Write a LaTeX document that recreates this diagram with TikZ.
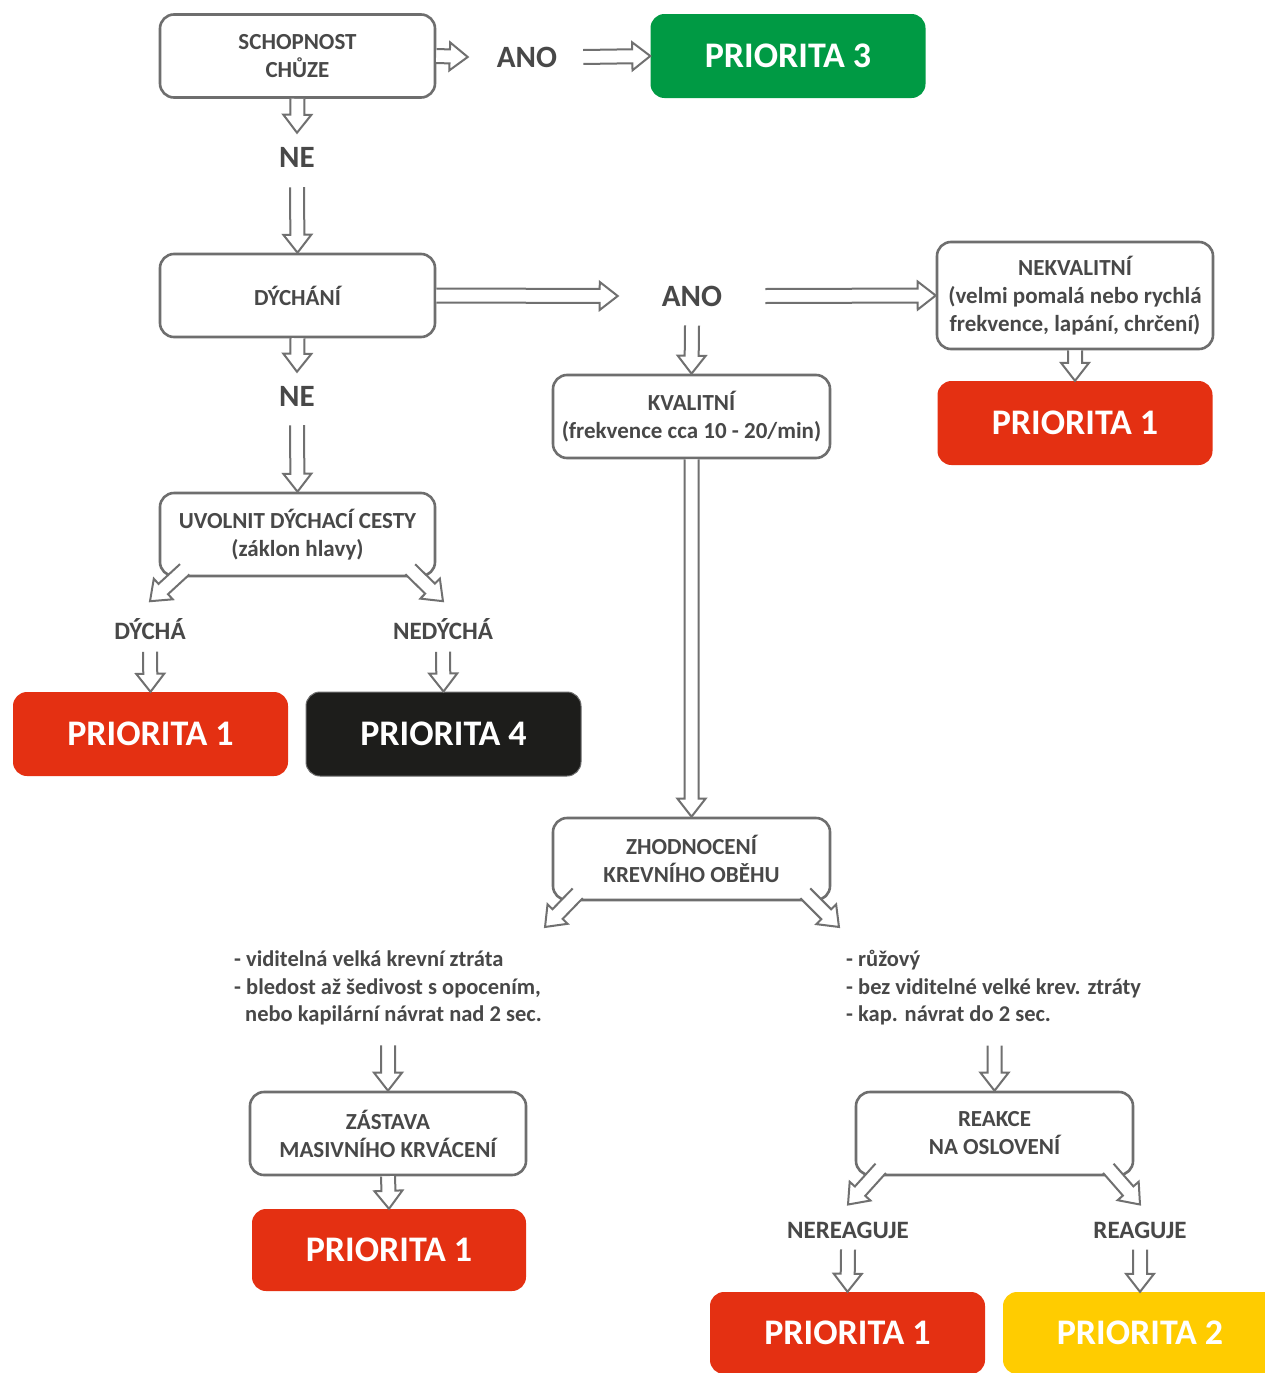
\documentclass[tikz,border=0pt]{standalone}
\usepackage{fontspec}
\setmainfont{Carlito}
\usetikzlibrary{calc}
\definecolor{bordergray}{HTML}{6E6E6E}
\definecolor{arrowgray}{HTML}{707070}
\definecolor{txtgray}{HTML}{484848}
\definecolor{pgreen}{HTML}{009A44}
\definecolor{pred}{HTML}{E43012}
\definecolor{pblack}{HTML}{1D1D1B}
\definecolor{pyellow}{HTML}{FFCC00}
\tikzset{
  harrowline/.style={draw=arrowgray, fill=white, line width=2pt, line join=miter},
  qbox/.style={draw=bordergray, line width=2.6pt, rounded corners=14pt, fill=white,
    minimum width=275pt, minimum height=83pt, align=center, inner sep=2pt,
    font=\fontsize{23}{28}\selectfont\bfseries, text=txtgray},
  prio/.style={rounded corners=14pt, minimum width=275pt, minimum height=84pt,
    font=\fontsize{36}{40}\selectfont\bfseries, text=white, inner sep=0pt},
  biglabel/.style={inner sep=0pt, font=\fontsize{31}{36}\selectfont\bfseries, text=txtgray},
  smlabel/.style={inner sep=0pt, font=\fontsize{25}{28}\selectfont\bfseries, text=txtgray},
  para/.style={inner sep=0pt, align=left, font=\fontsize{22.5}{27.5}\selectfont\bfseries, text=txtgray}
}
\newcommand\harrow[2]{%
  \path let \p1=#1, \p2=#2 in \pgfextra{%
    \pgfmathsetmacro\tmpang{atan2(\y2-\y1,\x2-\x1)}%
    \pgfmathsetmacro\tmplen{veclen(\x2-\x1,\y2-\y1)}%
    \xdef\hang{\tmpang}\xdef\hlen{\tmplen}\xdef\hxa{\x1}\xdef\hya{\y1}};
  \begin{scope}[shift={(\hxa,\hya)}, rotate=\hang, x=1pt, y=1pt]
    \filldraw[harrowline] (0,7) -- ({\hlen-18},7) -- ({\hlen-18},14) -- (\hlen,0)
      -- ({\hlen-18},-14) -- ({\hlen-18},-7) -- (0,-7);
  \end{scope}}
\begin{document}
\begin{tikzpicture}[x=1pt,y=-1pt]
\useasboundingbox (0,0) rectangle (1265,1373);
\fill[white] (0,0) rectangle (1265,1373);

% boxes
\node[qbox] (schop) at (297.5,56) {SCHOPNOST\\CHŮZE};
\node[prio, fill=pgreen] (p3) at (788,56) {PRIORITA 3};
\node[biglabel] (ano1) at (527,57) {ANO};
\node[biglabel] (ne1) at (297,157) {NE};
\node[qbox] (dych) at (297.5,295.5) {DÝCHÁNÍ};
\node[biglabel] (ano2) at (692,296) {ANO};
\node[qbox, minimum height=107pt, minimum width=276pt] (nekv) at (1075,295.5)
  {NEKVALITNÍ\\(velmi pomalá nebo rychlá\\frekvence, lapání, chrčení)};
\node[prio, fill=pred] (p1a) at (1075,423) {PRIORITA 1};
\node[qbox, minimum width=277pt] (kval) at (691.5,416.5) {KVALITNÍ\\(frekvence cca 10 - 20/min)};
\node[biglabel] (ne2) at (297,396) {NE};
\node[qbox] (uvol) at (297.5,534.5) {UVOLNIT DÝCHACÍ CESTY\\(záklon hlavy)};
\node[smlabel] (dycha) at (150,629) {DÝCHÁ};
\node[smlabel] (nedycha) at (443,629) {NEDÝCHÁ};
\node[prio, fill=pred] (p1b) at (150.5,734) {PRIORITA 1};
\node[prio, fill=pblack, draw=bordergray, line width=1pt] (p4) at (443.5,734) {PRIORITA 4};
\node[qbox, minimum width=277pt, minimum height=82pt] (zhod) at (691.5,859) {ZHODNOCENÍ\\KREVNÍHO OBĚHU};
\coordinate (zl) at (545,927);
\coordinate (zr) at (839,927);
\node[para, anchor=west] (ltext) at (234,988)
  {- viditelná velká krevní ztráta\\- bledost až šedivost s opocením,\\\hspace*{11pt}nebo kapilární návrat nad 2 sec.};
\node[para, anchor=west] (rtext) at (846,988)
  {- růžový\\- bez viditelné velké krev. ztráty\\- kap. návrat do 2 sec.};
\node[qbox, minimum width=276pt] (zast) at (388,1133.5) {ZÁSTAVA\\MASIVNÍHO KRVÁCENÍ};
\node[prio, fill=pred, minimum width=274pt, minimum height=82pt] (p1c) at (389,1250) {PRIORITA 1};
\node[qbox, minimum width=277pt] (reak) at (994.5,1133.5) {REAKCE\\NA OSLOVENÍ};
\node[smlabel] (nereag) at (848,1230) {NEREAGUJE};
\node[smlabel] (reag) at (1140,1230) {REAGUJE};
\node[prio, fill=pred, minimum height=82pt] (p1d) at (847.5,1333) {PRIORITA 1};
\node[prio, fill=pyellow, minimum width=274pt, minimum height=82pt] (p2) at (1140,1333) {PRIORITA 2};

% connectors
\harrow{(schop.east)}{([xshift=-29pt]ano1.west)}
\harrow{([xshift=26pt]ano1.east)}{(p3.west)}
\harrow{(schop.south)}{([yshift=14pt]ne1.north)}
\harrow{([yshift=-20pt]ne1.south)}{(dych.north)}
\harrow{(dych.east)}{([xshift=-44pt]ano2.west)}
\harrow{([xshift=43pt]ano2.east)}{(nekv.west)}
\harrow{([yshift=-19pt]ano2.south)}{(kval.north)}
\harrow{(nekv.south)}{(p1a.north)}
\harrow{(kval.south)}{(zhod.north)}
\harrow{(dych.south)}{([yshift=14pt]ne2.north)}
\harrow{([yshift=-19pt]ne2.south)}{(uvol.north)}
\harrow{([xshift=26pt,yshift=8pt]uvol.south west)}{([yshift=17pt]dycha.north)}
\harrow{([xshift=-26pt,yshift=8pt]uvol.south east)}{([yshift=17pt]nedycha.north)}
\harrow{([yshift=-12pt]dycha.south)}{(p1b.north)}
\harrow{([yshift=-12pt]nedycha.south)}{(p4.north)}
\harrow{([xshift=26pt,yshift=8pt]zhod.south west)}{(zl)}
\harrow{([xshift=-26pt,yshift=8pt]zhod.south east)}{(zr)}
\harrow{([yshift=-20pt]ltext.south -| zast.north)}{(zast.north)}
\harrow{([yshift=-20pt]rtext.south -| reak.north)}{(reak.north)}
\harrow{(zast.south)}{(p1c.north)}
\harrow{([xshift=26pt,yshift=8pt]reak.south west)}{([yshift=17pt]nereag.north)}
\harrow{([xshift=-26pt,yshift=8pt]reak.south east)}{([yshift=17pt]reag.north)}
\harrow{([yshift=-11pt]nereag.south)}{(p1d.north)}
\harrow{([yshift=-11pt]reag.south)}{(p2.north)}
\end{tikzpicture}
\end{document}
